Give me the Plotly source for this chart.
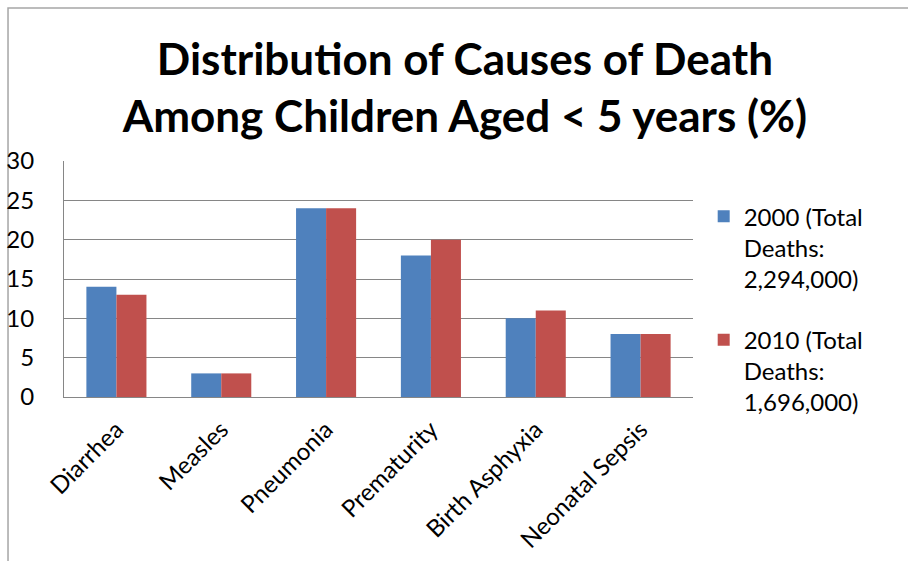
import plotly.graph_objects as go

# Share of under-five deaths by cause (%)
causes = ["Diarrhea", "Measles", "Pneumonia", "Prematurity", "Birth Asphyxia", "Neonatal Sepsis"]
pct_2000 = [14, 3, 24, 18, 10, 8]
pct_2010 = [13, 3, 24, 20, 11, 8]
name_2000 = "2000 (Total<br>Deaths:<br>2,294,000)"
name_2010 = "2010 (Total<br>Deaths:<br>1,696,000)"
y_ticks = [0, 5, 10, 15, 20, 25, 30]

FONT = "Lato"
GRID = "#868686"

fig = go.Figure()
fig.add_trace(go.Bar(x=causes, y=pct_2000, name=name_2000, legendgroup="y2000",
                     marker=dict(color="#4F81BD", line=dict(width=0))))
fig.add_trace(go.Bar(x=causes, y=pct_2010, name=name_2010, legendgroup="y2010",
                     marker=dict(color="#C0504D", line=dict(width=0))))

fig.update_layout(
    width=908,
    height=561,
    margin=dict(l=64, r=215, t=161, b=164, autoexpand=False),
    paper_bgcolor="white",
    plot_bgcolor="white",
    barmode="group",
    bargap=0.427,
    bargroupgap=0,
    font=dict(family=FONT, size=24, color="black"),
    title=dict(
        text="<b>Distribution of Causes of Death<br>Among Children Aged < 5 years (%)</b>",
        font=dict(family=FONT, size=44, color="black"),
        x=0.512,
        xanchor="center",
        xref="container",
        y=0.866,
        yanchor="top",
        yref="container",
    ),
    legend=dict(
        x=1.017,
        xanchor="left",
        y=0.86,
        yanchor="top",
        valign="top",
        font=dict(family=FONT, size=24, color="black"),
        tracegroupgap=27,
        bgcolor="rgba(0,0,0,0)",
    ),
    showlegend=True,
)

fig.update_yaxes(
    range=[0, 30],
    tickvals=y_ticks,
    automargin=False,
    showgrid=True,
    gridcolor=GRID,
    gridwidth=1,
    showline=True,
    linecolor=GRID,
    linewidth=1,
    zeroline=False,
    ticks="",
    ticklabelstandoff=24,
    tickfont=dict(family=FONT, size=24, color="black"),
)
fig.update_xaxes(
    automargin=False,
    showline=True,
    linecolor=GRID,
    linewidth=1,
    ticks="",
    tickangle=-45,
    ticklabelstandoff=8,
    tickfont=dict(family=FONT, size=24, color="black"),
)

# Chart-area frame (top and left edges of the outer border)
fig.add_shape(
    type="rect", xref="paper", yref="paper",
    x0=-0.089, x1=1.5, y0=-1.0, y1=1.648,
    line=dict(color="#A6A6A6", width=1.5), fillcolor="rgba(0,0,0,0)", layer="below",
)

fig.write_html("out.html")
